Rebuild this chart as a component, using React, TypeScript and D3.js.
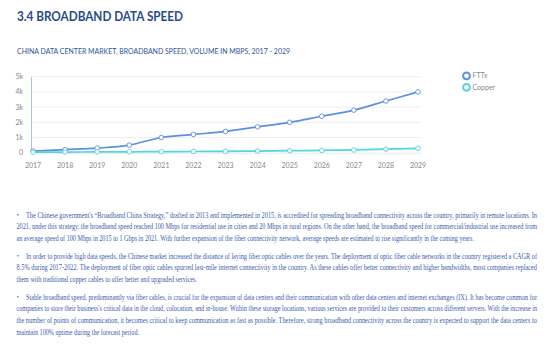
import React from "react";
import * as d3 from "d3";

const years = ["2017","2018","2019","2020","2021","2022","2023","2024","2025","2026","2027","2028","2029"];
const fttx = [100, 200, 300, 500, 1000, 1200, 1400, 1700, 2000, 2400, 2800, 3400, 4000];
const copper = [30, 40, 50, 60, 70, 80, 90, 110, 130, 150, 180, 230, 290];
const yTicks = [0, 1000, 2000, 3000, 4000, 5000];
const yTickLabels = ["0", "1k", "2k", "3k", "4k", "5k"];
const seriesNames = ["FTTx", "Copper"];
const seriesColors = ["#5b8fe3", "#52d5dc"];

const title = "3.4 BROADBAND DATA SPEED";
const subtitle = "CHINA DATA CENTER MARKET, BROADBAND SPEED, VOLUME IN MBPS, 2017 - 2029";

const paragraphs: string[][] = [
  [
    "The Chinese government's \u201cBroadband China Strategy,\u201d drafted in 2013 and implemented in 2015, is accredited for spreading broadband connectivity across the country, primarily in remote locations. In",
    "2021, under this strategy, the broadband speed reached 100 Mbps for residential use in cities and 20 Mbps in rural regions. On the other hand, the broadband speed for commercial/industrial use increased from",
    "an average speed of 100 Mbps in 2015 to 1 Gbps in 2021. With further expansion of the fiber connectivity network, average speeds are estimated to rise significantly in the coming years.",
  ],
  [
    "In order to provide high data speeds, the Chinese market increased the distance of laying fiber optic cables over the years. The deployment of optic fiber cable networks in the country registered a CAGR of",
    "8.5% during 2017-2022. The deployment of fiber optic cables spurred last-mile internet connectivity in the country. As these cables offer better connectivity and higher bandwidths, most companies replaced",
    "them with traditional copper cables to offer better and upgraded services.",
  ],
  [
    "Stable broadband speed, predominantly via fiber cables, is crucial for the expansion of data centers and their communication with other data centers and internet exchanges (IX). It has become common for",
    "companies to store their business's critical data in the cloud, colocation, and in-house. Within these storage locations, various services are provided to their customers across different servers. With the increase in",
    "the number of points of communication, it becomes critical to keep communication as fast as possible. Therefore, strong broadband connectivity across the country is expected to support the data centers to",
    "maintain 100% uptime during the forecast period.",
  ],
];
const paraTops = [215, 256, 297];
const lastLineEnds = [474, 197, 139];

export default function App() {
  const W = 550, H = 349;
  const x = d3.scalePoint<string>().domain(years).range([33, 418]);
  const y = d3.scaleLinear().domain([0, 5000]).range([152.7, 76.7]);
  const line = d3.line<number>().x((_, i) => x(years[i]) as number).y((d) => y(d)).curve(d3.curveMonotoneX);
  const data = [fttx, copper];
  const lineH = 11.9;
  const textColor = "#3a5bb0";
  const sans = "Lato, 'Open Sans', sans-serif";

  return (
    <svg width={W} height={H} style={{ position: "absolute", left: 0, top: 0, background: "#fff" }}>
      <text x={17} y={21} fontFamily={sans} fontWeight={700} fontSize={12.4} fill="#2b4a8b" textLength={166} lengthAdjust="spacingAndGlyphs">{title}</text>
      <text x={17} y={54} fontFamily={sans} fontSize={7.6} fill="#2f5597" textLength={273} lengthAdjust="spacingAndGlyphs">{subtitle}</text>

      {yTicks.map((t, i) => (
        <g key={t}>
          {t > 0 && <line x1={33} x2={421} y1={y(t)} y2={y(t)} stroke="#efefef" strokeWidth={1} />}
          <text x={23} y={y(t)} dy="0.35em" textAnchor="end" fontFamily={sans} fontSize={7} fill="#8a8a8a">{yTickLabels[i]}</text>
        </g>
      ))}
      <line x1={31.5} x2={31.5} y1={y(5000)} y2={y(0)} stroke="#a9c4f0" strokeWidth={1} />
      <line x1={31.5} x2={421} y1={y(0) + 0.5} y2={y(0) + 0.5} stroke="#e6e6e6" strokeWidth={1} />
      {years.map((yr) => (
        <text key={yr} x={x(yr)} y={165.5} dy="0.35em" textAnchor="middle" fontFamily={sans} fontSize={7} fill="#8a8a8a">{yr}</text>
      ))}

      {data.map((s, si) => (
        <g key={si}>
          <path d={line(s) || ""} fill="none" stroke={seriesColors[si]} strokeWidth={1.7} />
          {s.map((v, i) => (
            <circle key={i} cx={x(years[i])} cy={y(v)} r={2.3} fill="#fff" stroke={seriesColors[si]} strokeWidth={0.9} />
          ))}
        </g>
      ))}

      {seriesNames.map((n, i) => (
        <g key={n} transform={`translate(466.5, ${75.8 + i * 11.6})`}>
          <circle r={3.4} fill="#fff" stroke={seriesColors[i]} strokeWidth={2} />
          <text x={6} dy="0.35em" fontFamily={sans} fontSize={7} fill="#8a8a8a">{n}</text>
        </g>
      ))}

      {paragraphs.map((p, pi) => (
        <g key={pi}>
          <text x={16.5} y={paraTops[pi]} dy="0.35em" fontFamily="'Liberation Serif', serif" fontSize={7} fill="#4a86d8">•</text>
          {p.map((ln, li) => {
            const x0 = li === 0 ? 26 : 16.5;
            const last = li === p.length - 1;
            const end = last ? lastLineEnds[pi] : 537;
            return (
              <text key={li} x={x0} y={paraTops[pi] + li * lineH} dy="0.35em"
                fontFamily="'Liberation Serif', 'Times New Roman', serif" fontSize={7.4} fill={textColor}
                textLength={end - x0} lengthAdjust="spacingAndGlyphs">{ln}</text>
            );
          })}
        </g>
      ))}
    </svg>
  );
}
